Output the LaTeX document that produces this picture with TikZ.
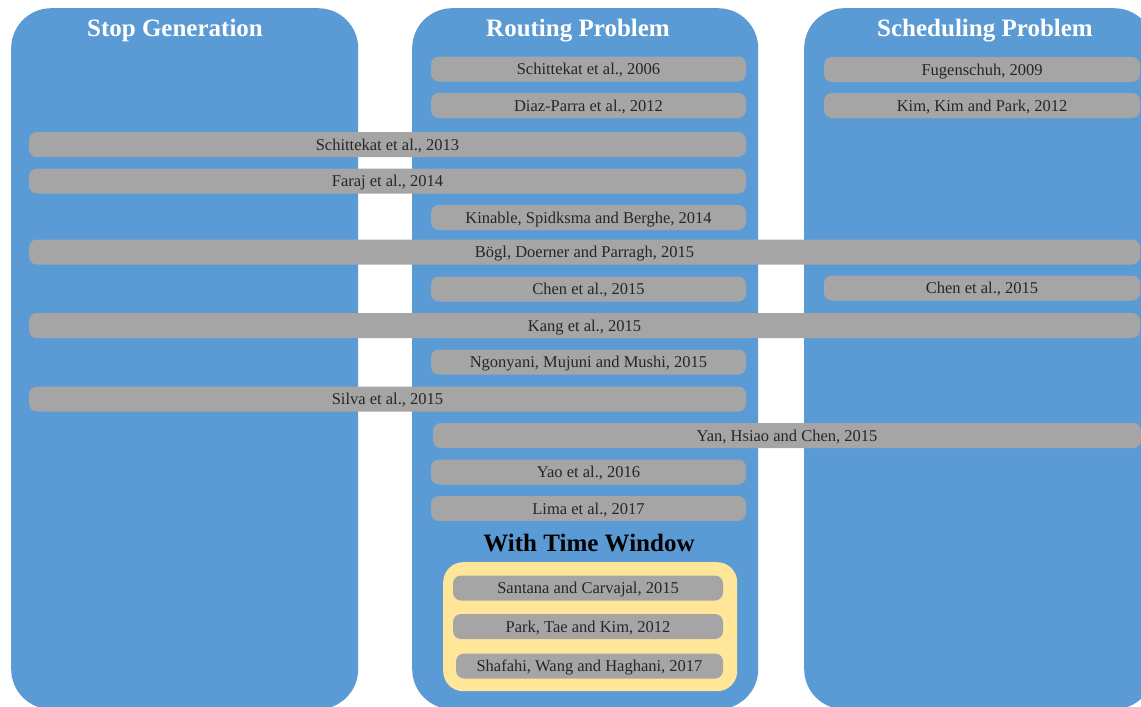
\documentclass[tikz,border=0pt]{standalone}
\usepackage{fontspec}
\setmainfont{Liberation Serif}
\definecolor{panelblue}{HTML}{5B9BD5}
\definecolor{bargray}{HTML}{A5A5A5}
\definecolor{twyellow}{HTML}{FFE699}
\definecolor{bartext}{HTML}{262626}
\tikzset{
  panel/.style={fill=panelblue, draw=none, rounded corners=40pt, anchor=north west, inner sep=0pt},
  paneltitle/.style={text=white, font=\fontsize{25}{28}\selectfont\bfseries, inner sep=0pt, text height=16.5pt, text depth=0pt},
  bar/.style={fill=bargray, draw=none, rounded corners=8pt, minimum height=25pt, inner sep=0pt, text height=11.2pt, text depth=0pt, text=bartext, font=\fontsize{16.5}{18}\selectfont},
  twbox/.style={fill=twyellow, draw=none, rounded corners=20pt, anchor=north west, inner sep=0pt},
}
\begin{document}
\begin{tikzpicture}[x=1pt,y=-1pt]
\useasboundingbox (0,0) rectangle (1141,707);
\clip (0,0) rectangle (1141,707);
% panels
\node[panel, minimum width=347pt, minimum height=701pt] (stop) at (11,8) {};
\node[panel, minimum width=346pt, minimum height=701pt] (route) at (412,8) {};
\node[panel, minimum width=350pt, minimum height=701pt] (sched) at (804,8) {};
\node[paneltitle] (stoptitle) at (175,28.5) {Stop Generation};
\node[paneltitle] (routetitle) at (578,28.5) {Routing Problem};
\node[paneltitle] (schedtitle) at (985,28.5) {Scheduling Problem};
% middle-only bars
\node[bar, minimum width=315pt] (s06) at (588.5,69) {Schittekat et al., 2006};
\node[bar, minimum width=315pt] (dp12) at (588.5,105.5) {Diaz-Parra et al., 2012};
\node[bar, minimum width=315pt] (kin14) at (588.5,217.5) {Kinable, Spidksma and Berghe, 2014};
\node[bar, minimum width=315pt] (chen15m) at (588.5,289) {Chen et al., 2015};
\node[bar, minimum width=315pt] (ngo15) at (588.5,362) {Ngonyani, Mujuni and Mushi, 2015};
\node[bar, minimum width=315pt] (yao16) at (588.5,472) {Yao et al., 2016};
\node[bar, minimum width=315pt] (lima17) at (588.5,508.5) {Lima et al., 2017};
% left+middle bars
\node[bar, minimum width=717pt] (s13) at (387.5,144.5) {Schittekat et al., 2013};
\node[bar, minimum width=717pt] (faraj14) at (387.5,181) {Faraj et al., 2014};
\node[bar, minimum width=717pt] (silva15) at (387.5,399) {Silva et al., 2015};
% full-width bars
\node[bar, minimum width=1111pt] (bogl15) at (584.5,252) {Bögl, Doerner and Parragh, 2015};
\node[bar, minimum width=1111pt] (kang15) at (584.5,325.5) {Kang et al., 2015};
% middle+right bar
\node[bar, minimum width=708pt] (yan15) at (787,435.5) {Yan, Hsiao and Chen, 2015};
% right-only bars
\node[bar, minimum width=316pt] (fug09) at (982,69.5) {Fugenschuh, 2009};
\node[bar, minimum width=316pt] (kim12) at (982,105.5) {Kim, Kim and Park, 2012};
\node[bar, minimum width=316pt] (chen15r) at (982,288) {Chen et al., 2015};
% time window
\node[font=\fontsize{25}{28}\selectfont\bfseries, text=black, inner sep=0pt, text height=16.5pt, text depth=0pt] (twtitle) at (589,543) {With Time Window};
\node[twbox, minimum width=294pt, minimum height=129pt] (tw) at (443,562) {};
\node[bar, minimum width=270pt] (sant15) at (588,588) {Santana and Carvajal, 2015};
\node[bar, minimum width=270pt] (park12) at (588,626.5) {Park, Tae and Kim, 2012};
\node[bar, minimum width=267pt] (shaf17) at (589.5,666) {Shafahi, Wang and Haghani, 2017};
\end{tikzpicture}
\end{document}
